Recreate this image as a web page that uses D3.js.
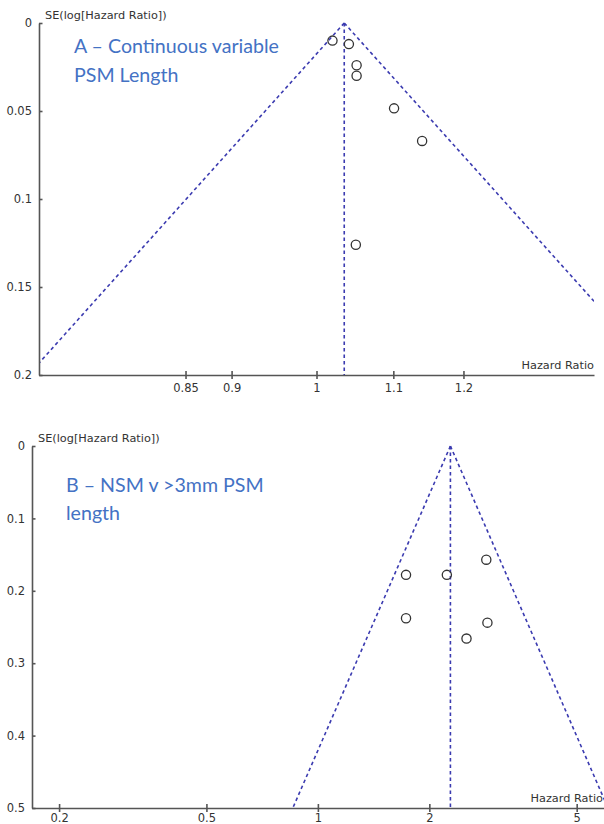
<!DOCTYPE html>
<html>
<head>
<meta charset="utf-8">
<script src="https://cdn.jsdelivr.net/npm/d3@7"></script>
<style>
    body { margin: 0; background: #fff; }
    .axis path, .axis line { stroke: #555; stroke-width: 1.6; }
    .axis text { fill: #333; font-family: "DejaVu Sans", sans-serif; font-size: 11.5px; }
    .lbl { fill: #333; font-family: "DejaVu Sans", sans-serif; font-size: 11.3px; }
    .title { fill: #4472c4; font-family: Lato, sans-serif; font-size: 19.6px; }
    .funnel { fill: none; stroke: #3b3bb0; stroke-width: 1.6; stroke-dasharray: 3.5,3; }
    .study { fill: none; stroke: #333; stroke-width: 1.3; }
</style>
</head>
<body>
<div id="viz"></div>
<script>
/////// A - continuous variable ///////
var topHR = [1.020, 1.041, 1.051, 1.051, 1.101, 1.140, 1.050];
var topSE = [0.010, 0.012, 0.024, 0.030, 0.0485, 0.067, 0.126];
var topPooled = 1.035;
var topXTicks = [0.85, 0.9, 1, 1.1, 1.2];
var topYTicks = [0, 0.05, 0.1, 0.15, 0.2];

/////// B - NSM v >3mm ///////
var botHR = [2.85, 1.73, 2.23, 1.73, 2.87, 2.52];
var botSE = [0.157, 0.178, 0.178, 0.238, 0.244, 0.266];
var botPooled = 2.28;
var botXTicks = [0.2, 0.5, 1, 2, 5];
var botYTicks = [0, 0.1, 0.2, 0.3, 0.4, 0.5];

var w = 604;
var h = 824;

var svg = d3.select("#viz")
            .append("svg")
            .attr("width", w)
            .attr("height", h);

var drawFunnel = function(id, hr, se, pooled, xticks, yticks, xdom, xrange, yrange, labelDy, title) {
    var xscale = d3.scaleLog()
                    .domain(xdom)
                    .range(xrange);

    var yscale = d3.scaleLinear()
                    .domain([0, yticks[yticks.length - 1]])
                    .range(yrange);

    var g = svg.append("g").attr("id", id);

    g.append("clipPath")
        .attr("id", id + "_clip")
        .append("rect")
        .attr("x", xrange[0])
        .attr("y", yrange[0] - 2)
        .attr("width", xrange[1] - xrange[0])
        .attr("height", yrange[1] - yrange[0] + 2);

    var seMax = yticks[yticks.length - 1];
    var lines = [
        [pooled, 0, pooled * Math.exp(-1.96 * seMax), seMax],
        [pooled, 0, pooled * Math.exp(1.96 * seMax), seMax],
        [pooled, 0, pooled, seMax]
    ];

    g.append("g")
        .attr("clip-path", "url(#" + id + "_clip)")
        .selectAll("line")
        .data(lines)
        .enter()
        .append("line")
        .attr("class", "funnel")
        .attr("x1", function(d) { return xscale(d[0]); })
        .attr("y1", function(d) { return yscale(d[1]); })
        .attr("x2", function(d) { return xscale(d[2]); })
        .attr("y2", function(d) { return yscale(d[3]); });

    g.append("g")
        .selectAll("circle")
        .data(hr)
        .enter()
        .append("circle")
        .attr("class", "study")
        .attr("cx", function(d) { return xscale(d); })
        .attr("cy", function(d, i) { return yscale(se[i]); })
        .attr("r", 4.6);

    var xaxis = d3.axisBottom(xscale)
                    .tickValues(xticks)
                    .tickFormat(d3.format("~g"))
                    .tickSize(4)
                    .tickSizeOuter(0)
                    .tickPadding(3);

    var yaxis = d3.axisLeft(yscale)
                    .tickValues(yticks)
                    .tickFormat(d3.format("~g"))
                    .tickSize(4)
                    .tickSizeOuter(0)
                    .tickPadding(3);

    var gx = g.append("g")
        .attr("class", "x axis")
        .attr("transform", "translate(0," + yrange[1] + ")")
        .call(xaxis);
    gx.selectAll(".tick line").attr("y1", -4);
    gx.selectAll(".tick text").attr("dy", labelDy);

    var gy = g.append("g")
        .attr("class", "y axis")
        .attr("transform", "translate(" + xrange[0] + ",0)")
        .call(yaxis);
    gy.selectAll(".tick line").attr("x2", 3.5);

    g.append("text")
        .attr("class", "lbl")
        .attr("x", xrange[0] + 6)
        .attr("y", yrange[0] - 4)
        .text("SE(log[Hazard Ratio])");

    g.append("text")
        .attr("class", "lbl")
        .attr("x", Math.min(xrange[1], w - 1))
        .attr("y", yrange[1] - 6)
        .attr("text-anchor", "end")
        .text("Hazard Ratio");

    g.append("text")
        .attr("class", "title")
        .selectAll("tspan")
        .data(title.lines)
        .enter()
        .append("tspan")
        .attr("x", title.x)
        .attr("y", function(d, i) { return title.y + i * title.gap; })
        .text(function(d) { return d; });
};

drawFunnel("panelA", topHR, topSE, topPooled, topXTicks, topYTicks,
           [0.7087, 1.411], [39, 594], [23, 375], "0.85em",
           {lines: ["A \u2013 Continuous variable", "PSM Length"], x: 74, y: 53, gap: 29});

drawFunnel("panelB", botHR, botSE, botPooled, botXTicks, botYTicks,
           [0.169, 6.0], [32, 606], [446, 808], "0.62em",
           {lines: ["B \u2013 NSM v >3mm PSM", "length"], x: 66, y: 492, gap: 28});
</script>
</body>
</html>
